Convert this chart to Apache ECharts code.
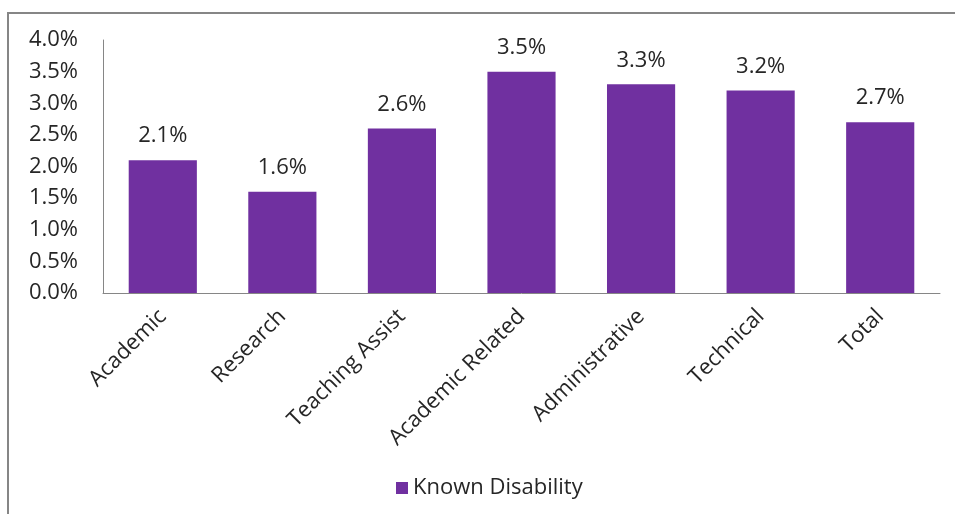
<!DOCTYPE html>
<html>
<head>
<meta charset="utf-8">
<script src="https://cdn.jsdelivr.net/npm/echarts@6/dist/echarts.min.js"></script>
<style>
  html, body { margin: 0; padding: 0; background: #fff; }
  #chart { width: 955px; height: 514px; }
</style>
</head>
<body>
<div id="chart"></div>
<script>
// Staff groups and share of staff with a known disability (%)
const categories = ['Academic', 'Research', 'Teaching Assist', 'Academic Related', 'Administrative', 'Technical', 'Total'];
const knownDisability = [2.1, 1.6, 2.6, 3.5, 3.3, 3.2, 2.7];
const seriesName = 'Known Disability';

const FONT = 'Open Sans';
const SIZE = 22;
const TEXT = '#262626';
const AXIS = '#868686';

const chart = echarts.init(document.getElementById('chart'));
chart.setOption({
  animation: false,
  textStyle: { fontFamily: FONT },
  graphic: [{
    type: 'rect',
    shape: { x: 8, y: 13, width: 1000, height: 600 },
    style: { fill: 'none', stroke: AXIS, lineWidth: 2 },
    silent: true
  }],
  grid: { left: 103, right: 15, top: 40, bottom: 221, containLabel: false },
  legend: {
    bottom: 10,
    left: 391,
    itemWidth: 12,
    itemHeight: 12,
    itemGap: 10,
    icon: 'rect',
    textStyle: { fontFamily: FONT, fontSize: SIZE, color: TEXT },
    data: [seriesName]
  },
  xAxis: {
    type: 'category',
    data: categories,
    axisLine: { lineStyle: { color: AXIS, width: 1 } },
    axisTick: { show: false },
    axisLabel: {
      rotate: 45,
      interval: 0,
      margin: 20,
      fontFamily: FONT,
      fontSize: SIZE,
      color: TEXT
    }
  },
  yAxis: {
    type: 'value',
    min: 0,
    max: 4,
    interval: 0.5,
    axisLine: { show: true, lineStyle: { color: AXIS, width: 1 } },
    axisTick: { show: false },
    splitLine: { show: false },
    axisLabel: {
      margin: 25,
      fontFamily: FONT,
      fontSize: SIZE,
      color: TEXT,
      formatter: v => v.toFixed(1) + '%'
    }
  },
  series: [{
    name: seriesName,
    type: 'bar',
    data: knownDisability,
    barCategoryGap: '43%',
    itemStyle: { color: '#7030A0' },
    label: {
      show: true,
      position: 'top',
      distance: 13,
      fontFamily: FONT,
      fontSize: SIZE,
      color: TEXT,
      formatter: p => p.value.toFixed(1) + '%'
    }
  }]
});
</script>
</body>
</html>
